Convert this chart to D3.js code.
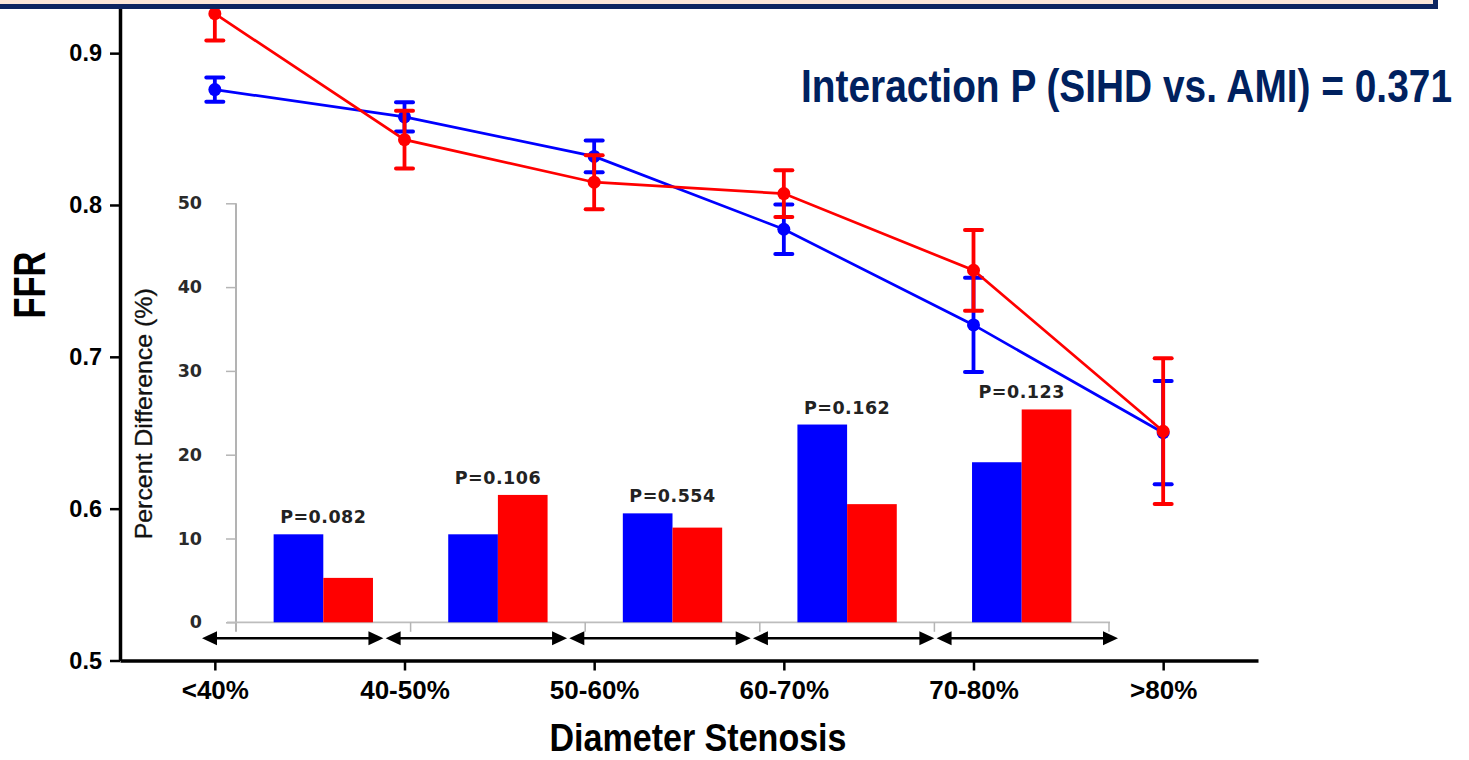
<!DOCTYPE html>
<html>
<head>
<meta charset="utf-8">
<script src="https://cdn.jsdelivr.net/npm/d3@7"></script>
<style>
  html, body { margin: 0; padding: 0; background: #fff; }
  svg { display: block; }
</style>
</head>
<body>
<svg id="chart" width="1469" height="760"></svg>
<script>
// Diameter stenosis groups
const categories = ["<40%", "40-50%", "50-60%", "60-70%", "70-80%", ">80%"];

// Mean FFR with error (SIHD = blue, AMI = red)
const sihdFFR = [0.876, 0.858, 0.832, 0.784, 0.721, 0.650];
const sihdErr = [0.008, 0.0096, 0.0104, 0.0163, 0.031, 0.034];
const amiFFR  = [0.926, 0.843, 0.815, 0.8075, 0.757, 0.651];
const amiErr  = [0.0176, 0.019, 0.0178, 0.0154, 0.0266, 0.048];

const ffrTicks = [0.5, 0.6, 0.7, 0.8, 0.9];

// Inset: percent difference between groups
const diffCategories = ["<40%", "40-50%", "50-60%", "60-70%", "70-80%"];
const sihdDiff = [10.5, 10.5, 13.0, 23.6, 19.1];
const amiDiff  = [5.3, 15.2, 11.3, 14.1, 25.4];
const pLabels  = ["P=0.082", "P=0.106", "P=0.554", "P=0.162", "P=0.123"];
const diffTicks = [0, 10, 20, 30, 40, 50];

const titleText = "Interaction P (SIHD vs. AMI) = 0.371";

const BLUE = "#0000ff", RED = "#ff0000", NAVY = "#00215f";
const SANS = "Liberation Sans, Arial, sans-serif";
const VERD = "DejaVu Sans, Verdana, sans-serif";
const svg = d3.select("#chart");

// ---------- scales ----------
const x = d3.scalePoint().domain(categories).range([120, 1258]).padding(0.5);
const y = d3.scaleLinear().domain([0.5, 0.935]).range([660.5, 0]);

// inset scales
const xb = d3.scaleBand().domain(diffCategories).range([236, 1109]).paddingInner(0.431).paddingOuter(0.2155);
const xs = d3.scaleBand().domain(["SIHD", "AMI"]).range([0, xb.bandwidth()]);
const yb = d3.scaleLinear().domain([0, 50]).range([622.3, 203.3]);
const xa = d3.scaleBand().domain(diffCategories).range([202, 1118]).paddingInner(0.012);

// ---------- inset axes ----------
const gyb = svg.append("g").attr("transform", `translate(${xb.range()[0]},0)`)
  .call(d3.axisLeft(yb).tickValues(diffTicks).tickSize(10).tickPadding(24).tickSizeOuter(0));
gyb.select(".domain").attr("stroke", "#9a9a9a").attr("stroke-width", 1.5)
  .attr("d", `M0,${yb(50)}V${yb(0) + 9.5}`);
gyb.selectAll(".tick line").attr("stroke", "#b5b5b5").attr("stroke-width", 1.5);
gyb.selectAll(".tick text")
  .attr("font-family", VERD).attr("font-weight", "bold")
  .attr("font-size", 17.5).attr("fill", "#2a2a2a");

const bounds = diffCategories.map(c => xb(c) - xb.step() * xb.paddingInner() / 2).concat([xb.range()[1]]);
const gxb = svg.append("g");
gxb.append("line").attr("x1", xb.range()[0] - 9).attr("x2", xb.range()[1] + 1)
  .attr("y1", yb(0)).attr("y2", yb(0)).attr("stroke", "#bdbdbd").attr("stroke-width", 1.8);
gxb.selectAll("line.bt").data(bounds.slice(1)).join("line").attr("class", "bt")
  .attr("x1", d => d).attr("x2", d => d).attr("y1", yb(0)).attr("y2", yb(0) + 9.5)
  .attr("stroke", "#b5b5b5").attr("stroke-width", 1.5);

svg.append("text")
  .attr("transform", `translate(151.5,${(yb(50) + yb(0)) / 2 + 1}) rotate(-90)`)
  .attr("text-anchor", "middle")
  .attr("font-family", SANS).attr("font-size", 24)
  .attr("fill", "#111").attr("stroke", "#111").attr("stroke-width", 0.3)
  .attr("textLength", 251).attr("lengthAdjust", "spacingAndGlyphs")
  .text("Percent Difference (%)");

// ---------- inset bars ----------
const gBars = svg.append("g");
diffCategories.forEach((c, i) => {
  const g = gBars.append("g").attr("transform", `translate(${xb(c)},0)`);
  [["SIHD", sihdDiff[i], BLUE], ["AMI", amiDiff[i], RED]].forEach(([k, v, col]) => {
    g.append("rect").attr("x", xs(k)).attr("width", xs.bandwidth())
      .attr("y", yb(v)).attr("height", yb(0) - yb(v)).attr("fill", col);
  });
  g.append("text").attr("x", xb.bandwidth() / 2).attr("y", yb(Math.max(sihdDiff[i], amiDiff[i])) - 11)
    .attr("text-anchor", "middle")
    .attr("font-family", VERD).attr("font-weight", "bold")
    .attr("font-size", 17.5).attr("letter-spacing", 0.5).attr("fill", "#222")
    .text(pLabels[i]);
});

// Double-headed range arrows under the inset
const arrowY = 638.3;
const gArr = svg.append("g");
diffCategories.forEach(c => {
  const x0 = xa(c), x1 = xa(c) + xa.bandwidth();
  gArr.append("line").attr("x1", x0 + 8).attr("x2", x1 - 8).attr("y1", arrowY).attr("y2", arrowY)
    .attr("stroke", "#000").attr("stroke-width", 2.6);
  gArr.append("path").attr("d", `M${x0},${arrowY}L${x0 + 15},${arrowY - 7}L${x0 + 15},${arrowY + 7}Z`).attr("fill", "#000");
  gArr.append("path").attr("d", `M${x1},${arrowY}L${x1 - 15},${arrowY - 7}L${x1 - 15},${arrowY + 7}Z`).attr("fill", "#000");
});

// ---------- main axes ----------
const gx = svg.append("g").attr("transform", `translate(0,${y(0.5)})`)
  .call(d3.axisBottom(x).tickSize(10).tickPadding(10).tickSizeOuter(0));
gx.select(".domain").attr("stroke", "#000").attr("stroke-width", 3.5);
gx.selectAll(".tick line").attr("stroke", "#000").attr("stroke-width", 2.5);
gx.selectAll(".tick text")
  .attr("font-family", SANS).attr("font-weight", "bold")
  .attr("font-size", 26).attr("fill", "#000").attr("dy", "0.72em");

const gy = svg.append("g").attr("transform", `translate(${x.range()[0]},0)`)
  .call(d3.axisLeft(y).tickValues(ffrTicks).tickFormat(d3.format(".1f")).tickSize(10).tickPadding(8).tickSizeOuter(0));
gy.select(".domain").attr("stroke", "#000").attr("stroke-width", 3.5);
gy.selectAll(".tick line").attr("stroke", "#000").attr("stroke-width", 2.5);
gy.selectAll(".tick text")
  .attr("font-family", SANS).attr("font-weight", "bold")
  .attr("font-size", 23.5).attr("fill", "#000");

// Axis titles (tall, condensed lettering)
svg.append("text").attr("transform", "translate(698,751) scale(1,1.14)").attr("text-anchor", "middle")
  .attr("font-family", SANS).attr("font-weight", "bold")
  .attr("font-size", 34).attr("fill", "#000").attr("textLength", 297).attr("lengthAdjust", "spacingAndGlyphs")
  .text("Diameter Stenosis");

svg.append("text").attr("transform", "translate(45,285) rotate(-90) scale(1,1.29)").attr("text-anchor", "middle")
  .attr("font-family", SANS).attr("font-weight", "bold")
  .attr("font-size", 34).attr("fill", "#000").attr("textLength", 67).attr("lengthAdjust", "spacingAndGlyphs")
  .text("FFR");

// ---------- FFR series: lines, error bars, markers ----------
function drawSeries(vals, errs, col) {
  const g = svg.append("g");
  g.append("path").datum(vals)
    .attr("d", d3.line().x((d, i) => x(categories[i])).y(d => y(d)))
    .attr("fill", "none").attr("stroke", col).attr("stroke-width", 2.7);
  vals.forEach((v, i) => {
    const cx = x(categories[i]);
    g.append("line").attr("x1", cx).attr("x2", cx).attr("y1", y(v - errs[i])).attr("y2", y(v + errs[i]))
      .attr("stroke", col).attr("stroke-width", 3.8);
    [v - errs[i], v + errs[i]].forEach(e => {
      g.append("line").attr("x1", cx - 8.5).attr("x2", cx + 8.5).attr("y1", y(e)).attr("y2", y(e))
        .attr("stroke", col).attr("stroke-width", 4).attr("stroke-linecap", "round");
    });
    g.append("circle").attr("cx", cx).attr("cy", y(v)).attr("r", 6.5).attr("fill", col);
  });
}
drawSeries(sihdFFR, sihdErr, BLUE);
drawSeries(amiFFR, amiErr, RED);

// ---------- title banner along the top edge ----------
svg.append("rect").attr("x", -20).attr("y", -40).attr("width", 1455.5).attr("height", 46.5)
  .attr("fill", "#fbe6d8").attr("stroke", "#0d2560").attr("stroke-width", 5);

svg.append("text").attr("transform", "translate(801,102) scale(1,1.2)")
  .attr("font-family", SANS).attr("font-weight", "bold")
  .attr("font-size", 38.8).attr("fill", NAVY).attr("textLength", 651).attr("lengthAdjust", "spacingAndGlyphs")
  .text(titleText);
</script>
</body>
</html>
